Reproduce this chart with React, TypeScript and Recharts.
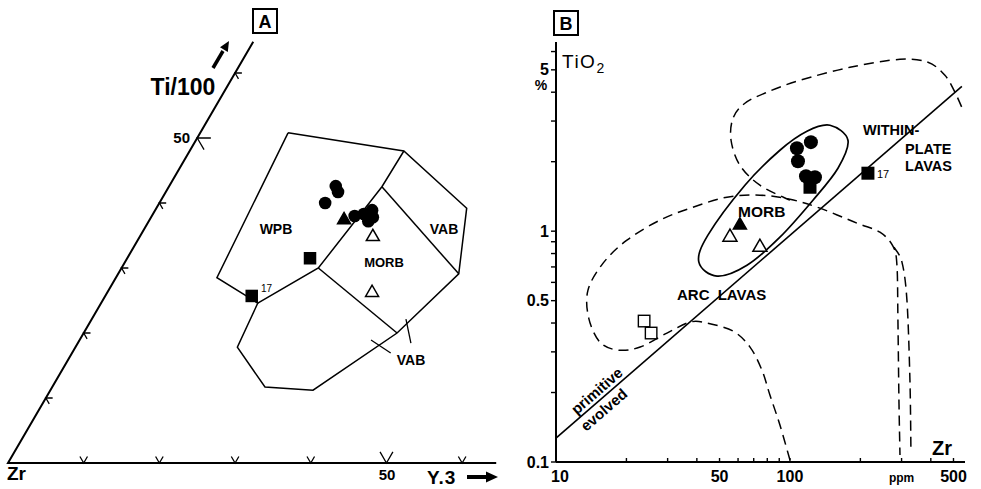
import React from 'react';
import { ComposedChart, Line, Scatter, XAxis, YAxis } from 'recharts';

const FONT = '"Liberation Sans", Arial, Helvetica, sans-serif';
type P = [number, number];

// ================= Panel A — Ti/100 · Zr · Y·3 ternary (values in %) =================
const A_TICKS = [10, 20, 30, 40, 50, 60];
const A_TI_EDGE_END = 64.8; // Ti/100 % where the drawn Zr–Ti edge stops
const A_Y3_EDGE_END = 64.5; // Y·3 % where the drawn Zr–Y edge stops

// field boundaries, each vertex as [Ti/100 %, Y·3 %]  (Zr = 100 − Ti − Y)
const A_FIELD_OUTLINE: P[] = [
  [50.8, 11.6], [48.0, 28.3], [39.2, 41.0], [29.1, 45.0], [20.0, 41.4], [11.2, 34.7],
  [11.7, 28.1], [17.8, 21.4], [24.6, 20.7], [28.5, 13.35], [50.8, 11.6],
];
const A_FIELD_WPB_MORB: P[] = [[24.6, 20.7], [30.0, 26.0], [42.5, 28.15], [48.0, 28.3]];
const A_FIELD_MORB_LOW: P[] = [[30.0, 26.0], [20.0, 41.4]];
const A_FIELD_MORB_VAB: P[] = [[42.5, 28.15], [29.1, 45.0]];
const A_VAB_POINTER_1: P[] = [[22.15, 41.5], [18.46, 44.0]];
const A_VAB_POINTER_2: P[] = [[18.92, 38.5], [16.92, 42.1]];

// samples [Ti/100 %, Y·3 %]
const A_CIRCLES: P[] = [
  [42.6, 22.0], [41.7, 22.75], [40.0, 21.9], [38.0, 26.8],
  [38.3, 27.85], [38.9, 28.65], [37.8, 29.3], [37.2, 29.0],
];
const A_TRI_FILLED: P[] = [[37.4, 25.7]];
const A_TRI_OPEN: P[] = [[34.8, 30.8], [26.2, 35.0]];
const A_SQ_FILLED: P[] = [[31.5, 24.15], [25.7, 19.35]];

// ================= Panel B — TiO2 (%) vs Zr (ppm), log–log =================
const B_X_TICKS = [10, 20, 30, 40, 50, 60, 70, 80, 90, 100, 200, 300, 400, 500];
const B_Y_TICKS = [0.1, 0.2, 0.3, 0.4, 0.5, 0.6, 0.7, 0.8, 0.9, 1, 2, 3, 4, 5, 6];
const B_X_LABELS: Record<string, string> = { '10': '10', '50': '50', '100': '100', '300': 'ppm', '500': '500' };
const B_Y_LABELS: Record<string, string> = { '0.1': '0.1', '0.5': '0.5', '1': '1', '5': '5' };

// [Zr ppm, TiO2 %]
const B_DIVIDE: P[] = [[10, 0.127], [543, 4.24]];
const B_MORB_FIELD: P[] = [
  [148.3, 2.876], [177.0, 2.477], [160.4, 1.874], [125.4, 1.362], [90.6, 0.942], [65.5, 0.712],
  [48.8, 0.639], [40.8, 0.734], [44.6, 0.961], [64.2, 1.582], [90.6, 2.242], [118.2, 2.709],
];
const B_WPL_FIELD: P[] = [
  [100, 1.362], [74.4, 1.582], [61.1, 1.931], [56.0, 2.477], [57.1, 3.085], [64.2, 3.582],
  [79.7, 3.998], [110.3, 4.505], [180.5, 5.129], [295.3, 5.553], [388.9, 5.39], [459.6, 4.734],
  [507.2, 4.0], [554.2, 3.275],
];
const B_ARC_FIELD: P[] = [
  [100, 0.102], [90.6, 0.1446], [82.1, 0.195], [75.9, 0.25], [67.5, 0.3147], [57.1, 0.369],
  [44.2, 0.3997], [37.4, 0.4037], [29.8, 0.3618], [22.9, 0.3147], [18.4, 0.3054], [15.4, 0.3307],
  [13.8, 0.4202], [13.7, 0.5555], [15.9, 0.727], [20.1, 0.914], [27.8, 1.116], [38.5, 1.27],
  [53.8, 1.404], [74.4, 1.432], [100, 1.375], [134.3, 1.258], [193.4, 1.083], [242.4, 0.99],
  [275.5, 0.861], [286.6, 0.7126], [289.4, 0.4118], [292.3, 0.1855], [295.3, 0.1072],
];
const B_ARC_FIELD_2: P[] = [[278.2, 0.8524], [301.1, 0.734], [316.2, 0.5027], [325.7, 0.2265], [328.9, 0.1127]];

const B_CIRCLES: P[] = [[122.9, 2.43], [107.1, 2.288], [108.2, 2.01], [117.1, 1.73], [127.9, 1.713]];
const B_SQ_FILLED: P[] = [[121.8, 1.55], [215.4, 1.783]];
const B_TRI_FILLED: P[] = [[61.1, 1.062]];
const B_TRI_OPEN: P[] = [[55.4, 0.942], [74.4, 0.852]];
const B_SQ_OPEN: P[] = [[23.8, 0.408], [25.5, 0.362]];

// ================= helpers =================
const tern = ([ti, y3]: P) => ({ x: y3 + ti / 2, y: ti as number | null });
const ternList = (a: P[]) => a.map(tern);
const xy = (a: P[]) => a.map(([x, y]) => ({ x, y }));

const aEdges = [
  tern([A_TI_EDGE_END, 0]), tern([0, 0]), tern([0, A_Y3_EDGE_END]),
];
const aTickPath: { x: number; y: number | null }[] = [];
A_TICKS.forEach((t) => {
  const d = t === 50 ? 1.8 : 0.9;
  aTickPath.push(tern([t, d]), tern([t, 0]), tern([t - d, d]), { x: 0, y: null });
  const e = t === 50 ? 1.7 : 1.0;
  aTickPath.push(tern([e, t - e]), tern([0, t]), tern([e, t]), { x: 0, y: null });
});

const catmull = (closed: boolean) => (context: any) => {
  let pts: number[][] = [];
  return {
    areaStart() {},
    areaEnd() {},
    lineStart() { pts = []; },
    point(x: number, y: number) { pts.push([+x, +y]); },
    lineEnd() {
      const n = pts.length;
      if (!n) return;
      const get = (i: number) => (closed ? pts[(i + n) % n] : pts[Math.max(0, Math.min(n - 1, i))]);
      context.moveTo(pts[0][0], pts[0][1]);
      const segs = closed ? n : n - 1;
      for (let i = 0; i < segs; i++) {
        const p0 = get(i - 1), p1 = get(i), p2 = get(i + 1), p3 = get(i + 2);
        context.bezierCurveTo(
          p1[0] + (p2[0] - p0[0]) / 6, p1[1] + (p2[1] - p0[1]) / 6,
          p2[0] - (p3[0] - p1[0]) / 6, p2[1] - (p3[1] - p1[1]) / 6,
          p2[0], p2[1],
        );
      }
      if (closed) context.closePath();
    },
  };
};
const CURVE_CLOSED: any = catmull(true);
const CURVE_OPEN: any = catmull(false);

const circle = (r: number) => (p: any) => <circle cx={p.cx} cy={p.cy} r={r} fill="#000" />;
const tri = (s: number, filled: boolean) => (p: any) => {
  const h = s * 0.866;
  const pts = `${p.cx},${p.cy - (h * 2) / 3} ${p.cx - s / 2},${p.cy + h / 3} ${p.cx + s / 2},${p.cy + h / 3}`;
  return <polygon points={pts} fill={filled ? '#000' : '#fff'} stroke="#000" strokeWidth={1.5} />;
};
const sq = (s: number, filled: boolean) => (p: any) => (
  <rect x={p.cx - s / 2} y={p.cy - s / 2} width={s} height={s} fill={filled ? '#000' : '#fff'} stroke="#000" strokeWidth={filled ? 0 : 1.4} />
);

const lineCommon = {
  dataKey: 'y',
  dot: false,
  activeDot: false,
  isAnimationActive: false,
  stroke: '#000',
  legendType: 'none' as const,
};

const XTick = (props: any) => {
  const { x, y, payload } = props;
  const lbl = B_X_LABELS[String(payload.value)];
  const isPpm = lbl === 'ppm';
  return (
    <g>
      <line x1={x} x2={x} y1={y} y2={y - 4} stroke="#000" strokeWidth={1.4} />
      {lbl && (
        <text x={payload.value === 10 ? x + 4 : x} y={y + 20} textAnchor="middle" fontFamily={FONT}
          fontWeight={700} fontSize={isPpm ? 12 : 16} fill="#000">{lbl}</text>
      )}
    </g>
  );
};
const YTick = (props: any) => {
  const { x, y, payload } = props;
  const lbl = B_Y_LABELS[String(payload.value)];
  return (
    <g>
      <line x1={x} x2={x - 5} y1={y} y2={y} stroke="#000" strokeWidth={1.4} />
      {lbl && (
        <text x={x - 7} y={y + 5.5} textAnchor="end" fontFamily={FONT} fontWeight={700} fontSize={16} fill="#000">{lbl}</text>
      )}
    </g>
  );
};

const T = (p: any) => <text fontFamily={FONT} fontWeight={700} fill="#000" {...p} />;

export default function App() {
  return (
    <div style={{ position: 'absolute', left: 0, top: 0, width: 981, height: 489, background: '#fff', overflow: 'hidden' }}>
      <div style={{ position: 'absolute', left: 0, top: 0 }}>
        <ComposedChart width={500} height={489} margin={{ top: 0, right: 0, bottom: 0, left: 0 }}>
          <XAxis type="number" dataKey="x" domain={[-1.057, 65.0]} allowDataOverflow hide />
          <YAxis type="number" dataKey="y" domain={[-4.0, 71.23]} allowDataOverflow hide />
          <Line {...lineCommon} data={aEdges} strokeWidth={2} />
          <Line {...lineCommon} data={aTickPath} strokeWidth={1.3} />
          <Line {...lineCommon} data={ternList(A_FIELD_OUTLINE)} strokeWidth={1.5} />
          <Line {...lineCommon} data={ternList(A_FIELD_WPB_MORB)} strokeWidth={1.5} />
          <Line {...lineCommon} data={ternList(A_FIELD_MORB_LOW)} strokeWidth={1.5} />
          <Line {...lineCommon} data={ternList(A_FIELD_MORB_VAB)} strokeWidth={1.5} />
          <Line {...lineCommon} data={ternList(A_VAB_POINTER_1)} strokeWidth={1.3} />
          <Line {...lineCommon} data={ternList(A_VAB_POINTER_2)} strokeWidth={1.3} />
          <Scatter data={ternList(A_CIRCLES)} shape={circle(6.3)} isAnimationActive={false} />
          <Scatter data={ternList(A_TRI_FILLED)} shape={tri(13, true)} isAnimationActive={false} />
          <Scatter data={ternList(A_TRI_OPEN)} shape={tri(13, false)} isAnimationActive={false} />
          <Scatter data={ternList(A_SQ_FILLED)} shape={sq(12.5, true)} isAnimationActive={false} />
        </ComposedChart>
      </div>

      <div style={{ position: 'absolute', left: 480, top: 0 }}>
        <ComposedChart width={501} height={489} margin={{ top: 42, right: 16, bottom: 0, left: 0 }}>
          <XAxis type="number" dataKey="x" scale="log" domain={[10, 560]} allowDataOverflow ticks={B_X_TICKS}
            interval={0} height={27} tickSize={0} tickMargin={0} tickLine={false}
            axisLine={{ stroke: '#000', strokeWidth: 2 }} tick={(p: any) => <XTick {...p} />} />
          <YAxis type="number" dataKey="y" scale="log" domain={[0.1, 6.6]} allowDataOverflow ticks={B_Y_TICKS}
            interval={0} width={76} tickSize={0} tickMargin={0} tickLine={false}
            axisLine={{ stroke: '#000', strokeWidth: 2 }} tick={(p: any) => <YTick {...p} />} />
          <Line {...lineCommon} data={xy(B_WPL_FIELD)} type={CURVE_OPEN} strokeWidth={1.5} strokeDasharray="10 6" />
          <Line {...lineCommon} data={xy(B_ARC_FIELD)} type={CURVE_OPEN} strokeWidth={1.5} strokeDasharray="10 6" />
          <Line {...lineCommon} data={xy(B_ARC_FIELD_2)} type={CURVE_OPEN} strokeWidth={1.5} strokeDasharray="10 6" />
          <Line {...lineCommon} data={xy(B_MORB_FIELD)} type={CURVE_CLOSED} strokeWidth={1.7} />
          <Line {...lineCommon} data={xy(B_DIVIDE)} strokeWidth={1.6} />
          <Scatter data={xy(B_CIRCLES)} shape={circle(7)} isAnimationActive={false} />
          <Scatter data={xy(B_SQ_FILLED)} shape={sq(13, true)} isAnimationActive={false} />
          <Scatter data={xy(B_TRI_FILLED)} shape={tri(13, true)} isAnimationActive={false} />
          <Scatter data={xy(B_TRI_OPEN)} shape={tri(14, false)} isAnimationActive={false} />
          <Scatter data={xy(B_SQ_OPEN)} shape={sq(11.5, false)} isAnimationActive={false} />
        </ComposedChart>
      </div>

      <svg width={981} height={489} style={{ position: 'absolute', left: 0, top: 0, pointerEvents: 'none' }}>
        {/* Panel A decorations */}
        <rect x={253} y={9} width={24} height={24} fill="none" stroke="#000" strokeWidth={2} />
        <T x={265} y={28} textAnchor="middle" fontSize={18}>A</T>
        <T x={183} y={95} textAnchor="middle" fontSize={23}>Ti/100</T>
        <line x1={213} y1={68} x2={223} y2={51} stroke="#000" strokeWidth={3.5} />
        <polygon points="229,41 227.8,51.9 220,47.3" fill="#000" />
        <T x={190} y={143} textAnchor="end" fontSize={15}>50</T>
        <T x={276} y={234} textAnchor="middle" fontSize={14}>WPB</T>
        <T x={384} y={267} textAnchor="middle" fontSize={13}>MORB</T>
        <T x={444} y={234} textAnchor="middle" fontSize={14}>VAB</T>
        <T x={411} y={365} textAnchor="middle" fontSize={14}>VAB</T>
        <text x={261} y={292} fontFamily={FONT} fontSize={10} fill="#000">17</text>
        <T x={7} y={480} fontSize={19}>Zr</T>
        <T x={387} y={480} textAnchor="middle" fontSize={15}>50</T>
        <T x={427} y={484} fontSize={19} letterSpacing={1}>Y.3</T>
        <line x1={467} y1={477} x2={488} y2={477} stroke="#000" strokeWidth={4} />
        <polygon points="486,471.5 498,477 486,482.5" fill="#000" />

        {/* Panel B decorations */}
        <rect x={554} y={11} width={24} height={24} fill="none" stroke="#000" strokeWidth={2} />
        <T x={566} y={30} textAnchor="middle" fontSize={18}>B</T>
        <text x={562} y={68} fontFamily={FONT} fontSize={19} letterSpacing={1.5} fill="#000">
          TiO<tspan fontSize={14} dy={5}>2</tspan>
        </text>
        <T x={541} y={90} textAnchor="middle" fontSize={14}>%</T>
        <T x={932} y={455} fontSize={20}>Zr</T>
        <T x={863} y={135} fontSize={14.5}>WITHIN-</T>
        <T x={905} y={154} fontSize={14.5}>PLATE</T>
        <T x={905} y={171} fontSize={14.5}>LAVAS</T>
        <T x={738} y={217} fontSize={15.5}>MORB</T>
        <T x={677} y={300} fontSize={15} wordSpacing={4}>ARC LAVAS</T>
        <T x={597} y={396} textAnchor="middle" fontSize={15} transform="rotate(-41 597 391)">primitive</T>
        <T x={604} y={415} textAnchor="middle" fontSize={15} transform="rotate(-41 604 410)">evolved</T>
        <text x={877} y={178} fontFamily={FONT} fontSize={11} fill="#000">17</text>
      </svg>
    </div>
  );
}
